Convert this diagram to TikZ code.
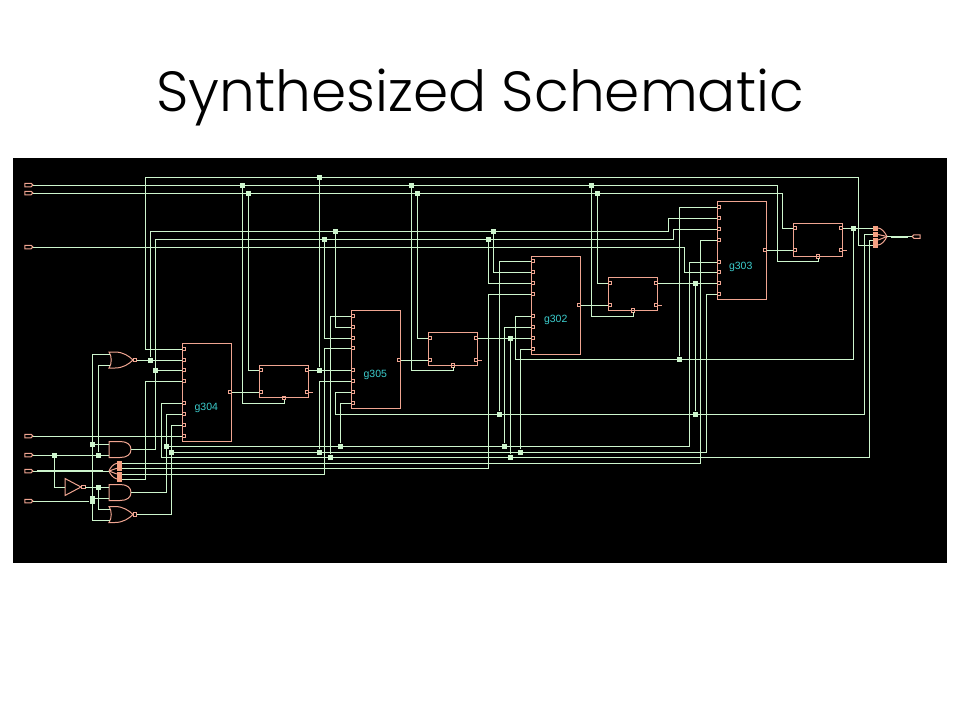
\documentclass[tikz,border=0pt]{standalone}
\usepackage{fontspec}
\setmainfont{Liberation Sans}
\newfontfamily\titlefont[UprightFont=* Light]{Poppins}
\usetikzlibrary{shapes.symbols}
\definecolor{wirecol}{RGB}{205,245,205}
\definecolor{gatecol}{RGB}{240,165,145}
\definecolor{padcol}{RGB}{245,160,130}
\definecolor{textcol}{RGB}{60,205,205}

\begin{document}
\begin{tikzpicture}[x=1pt,y=-1pt,
                wire/.style={draw=wirecol,line width=1pt},
                fatwire/.style={draw=wirecol,line width=2pt},
                gateline/.style={draw=gatecol,line width=1pt},
                block/.style={rectangle,draw=gatecol,line width=1pt,inner sep=0pt,outer sep=0pt,anchor=north west},
                port/.style={rectangle,draw=gatecol,line width=1pt,inner sep=0pt,outer sep=0pt,minimum size=3.5pt},
                jct/.style={rectangle,fill=wirecol,inner sep=0pt,minimum size=5pt},
                pad/.style={rectangle,fill=padcol,inner sep=0pt,minimum width=5pt,minimum height=5pt},
                iopad/.style={signal,signal to=east,draw=gatecol,line width=1pt,inner sep=0pt,outer sep=0pt,minimum width=8pt,minimum height=3.5pt},
                blocklabel/.style={text=textcol,font=\fontsize{10.5}{10.5}\selectfont},
                andgate/.pic={
                    \draw[gateline] (0,-8) -- (11,-8) .. controls (18,-8) and (22,-5) .. (22,0) .. controls (22,5) and (18,8) .. (11,8) -- (0,8) -- cycle;
                    \coordinate (-a) at (0,-5.5);
                    \coordinate (-b) at (0,5.5);
                    \coordinate (-o) at (22,0);
                },
                orgate/.pic={
                    \draw[gateline] (0,-8) -- (6,-8) .. controls (14,-8) and (20,-4) .. (24,0) .. controls (20,4) and (14,8) .. (6,8) -- (0,8) .. controls (3,4) and (3,-4) .. (0,-8) -- cycle;
                    \node[port] (-o) at (26,0) {};
                    \coordinate (-a) at (1,-5.5);
                    \coordinate (-b) at (1,5.5);
                },
                notgate/.pic={
                    \draw[gateline] (0,-8.5) -- (16,0) -- (0,8.5) -- cycle;
                    \node[port] (-o) at (18.5,0) {};
                    \coordinate (-a) at (0,0);
                }
            ]
            \useasboundingbox (0,0) rectangle (960,720);
            \fill[black] (13,158) rectangle (947,563);
            \node[font=\titlefont\fontsize{56.6}{56.6}\selectfont] (title) at (480,97) {Synthesized Schematic};

            % combinational blocks
            \foreach \name/\x/\ptop/\pq/\ylist in {g304/182.3/343.3/392/{349,360,370,381,403,414,425,436},
                                                   g305/351.3/310.3/360/{316,327,338,348,370,381,392,403},
                                                   g302/531.3/256.3/305/{261,272,283,294,316,327,338,349},
                                                   g303/717.3/201.3/250/{207,218,229,240,262,272,283,294}}{
                \node[block,minimum width=49.4pt,minimum height=98pt] (\name) at (\x,\ptop) {};
                \foreach \d [count=\i] in \ylist{
                    \node[port] (\name-\i) at (\x+1.7,\d) {};
                    \path[gateline] (\name-\i.west) -- ++(-4,0);
                }
                \node[port] (\name-q) at (\x+47.9,\pq) {};
            }
            \node[blocklabel] (g304l) at (206.3,407.5) {g304};
            \node[blocklabel] (g305l) at (375.3,375) {g305};
            \node[blocklabel] (g302l) at (555.7,320) {g302};
            \node[blocklabel] (g303l) at (740.7,266.5) {g303};

            % flip flops
            \foreach \name/\x/\ptop/\pd/\ps in {ff304/259.3/365/370/392,ff305/428.3/332.5/338/360,
                                                ff302/608.3/277.5/283/305,ff303/793.3/223.5/228/250}{
                \node[block,minimum width=49.4pt,minimum height=32.7pt] (\name) at (\x,\ptop) {};
                \node[port] (\name-d) at (\x+1.7,\pd) {};
                \node[port] (\name-s) at (\x+1.7,\ps) {};
                \node[port] (\name-q) at (\x+47.7,\pd) {};
                \node[port] (\name-r) at (\x+47.7,\ps) {};
                \node[port] (\name-c) at (\x+24.7,\ptop+33) {};
                \path[gateline] (\name-r) -- ++(5.5,0);
            }

            % gates
            \pic (or1) at (109,360) {orgate};
            \pic (and2) at (109,449.5) {andgate};
            \pic (and3) at (109,492.5) {andgate};
            \pic (or2) at (109,514.5) {orgate};
            \pic (inv) at (65,487) {notgate};

            % pads
            \foreach \name/\y in {i1/185,i2/193,i3/247,i4/436,i5/455,i6/471,i7/501}{
                \node[iopad] (\name) at (28,\y) {};
            }
            \foreach \name/\y in {mux1/463.3,mux2/468.3,mux3/474,mux4/479}{
                \node[pad] (\name) at (119.5,\y) {};
            }
            \foreach \name/\y in {op1/228,op2/234.5,op3/240,op4/245}{
                \node[pad] (\name) at (875.5,\y) {};
            }
            \node[iopad,signal to=west] (outp) at (917,236.5) {};
            \coordinate (muxin) at (109,471);
            \coordinate (optip) at (887,236.5);
            \path[gateline] (mux1.west) .. controls (113,464) and (110,468) .. (muxin);
            \path[gateline] (mux2.west) -- (muxin);
            \path[gateline] (mux3.west) -- (muxin);
            \path[gateline] (mux4.west) .. controls (113,478) and (110,474) .. (muxin);
            \path[gateline] (op1.east) .. controls (881,228) and (885,232) .. (optip);
            \path[gateline] (op2.east) -- (optip);
            \path[gateline] (op3.east) -- (optip);
            \path[gateline] (op4.east) .. controls (881,245) and (885,241) .. (optip);

            % junctions
            \foreach \name/\x/\y in {jt319/319/177,ja242/242/185,ja411/411/185,ja591/591/185,
                                     jb248/248/193,jb417/417/193,jb597/597/193,
                                     jc335/335/231,jc493/493/231,jd324/324/239,jd488/488/239,
                                     jo150/150/360,jo155/155/370,jq319/319/370,jq510/510/338,jq695/695/283,jq853/853/228,
                                     je166/166/446,je340/340/446,je504/504/446,
                                     jf171/171/452,jf319/319/452,jf520/520/452,jg330/330/457,jg510/510/457,
                                     jh499/499/414,jh695/695/414,ji679/679/359,
                                     jl54/54/455,jl98/98.7/455,jm92/92/444,jn92/92/498,jp92/92/501,jr98/98.7/487}{
                \node[jct] (\name) at (\x,\y) {};
            }

            % top nets
            \path[wire] (g304-1) -| (145,177) -- (858,177) |- (op4);
            \path[wire] (jt319) -- (jq319);
            \path[wire] (ff304-q) -- (g305-5);
            \path[wire] (i1) -- (777,185) |- (818,261) -- (ff303-c);
            \path[wire] (i2) -- (782,193) |- (ff303-d);
            \path[wire] (ja242) -- (242,403) -| (ff304-c);
            \path[wire] (ja411) -- (411,370) -| (ff305-c);
            \path[wire] (ja591) -- (591,316) -| (ff302-c);
            \path[wire] (jb248) |- (ff304-d);
            \path[wire] (jb417) |- (ff305-d);
            \path[wire] (jb597) |- (ff302-d);
            \path[wire] (or1-o) -- (g304-2);
            \path[wire] (jo150) -- (150,231) -- (668,231) |- (g303-2);
            \path[wire] (jc335) |- (g305-2);
            \path[wire] (jc493) |- (g302-2);
            \path[wire] (and2-o) -| (155,239) -- (673,239) |- (g303-3);
            \path[wire] (jo155) -- (g304-3);
            \path[wire] (jd324) |- (g305-3);
            \path[wire] (jd488) |- (g302-3);
            \path[wire] (i3) -- (684,247) |- (g303-6);

            % bottom nets
            \path[wire] (and3-o) -| (166,414) -- (g304-6);
            \path[wire] (je166) -- (689,446) |- (g303-5);
            \path[wire] (je340) |- (g305-8);
            \path[wire] (je504) |- (g302-6);
            \path[wire] (or2-o) -| (171,425) -- (g304-7);
            \path[wire] (jf171) -- (706,452) |- (g303-8);
            \path[wire] (jf319) |- (g305-6);
            \path[wire] (jf520) |- (g302-8);
            \path[wire] (g304-5) -| (161,457) -- (869,457) |- (op3);
            \path[wire] (jg330) |- (g305-1);
            \path[wire] (jg510) -- (jq510);
            \path[wire] (ff305-q) -- (g302-7);
            \path[wire] (mux1) -- (700,463.3) |- (g303-4);
            \path[wire] (mux2) -- (488,468.3) |- (g302-4);
            \path[wire] (mux3) -- (324,474) |- (g305-4);
            \path[wire] (mux4) -- (145,479) |- (g304-4);
            \path[wire] (g305-7) -| (335,414) -- (864,414) |- (op2);
            \path[wire] (jh499) |- (g302-1);
            \path[wire] (jh695) -- (jq695);
            \path[wire] (ff302-q) -- (g303-7);
            \path[wire] (g302-5) -| (515,359) -- (853,359) -- (jq853);
            \path[wire] (ff303-q) -- (op1);
            \path[wire] (ji679) |- (g303-1);

            % block to flip flop
            \path[wire] (g304-q) -- (ff304-s);
            \path[wire] (g305-q) -- (ff305-s);
            \path[wire] (g302-q) -- (ff302-s);
            \path[wire] (g303-q) -- (ff303-s);

            % input gates
            \path[wire] (i4) -- (g304-8);
            \path[wire] (i5) -- (and2-b);
            \path[wire] (i6) -- (muxin);
            \path[fatwire] (37,471) -- (103,471);
            \path[wire] (i7) -- (jp92);
            \path[wire] (jm92) -- (and2-a);
            \path[wire] (or1-a) -| (92,520) -- (or2-b);
            \path[wire] (or1-b) -| (jl98);
            \path[wire] (jl54) |- (inv-a);
            \path[wire] (inv-o) -- (and3-a);
            \path[wire] (jr98) |- (or2-a);
            \path[wire] (jn92) -- (and3-b);

            % output
            \path[wire] (optip) -- (outp);
            \path[fatwire] (891,236.5) -- (908,236.5);
        \end{tikzpicture}
\end{document}
